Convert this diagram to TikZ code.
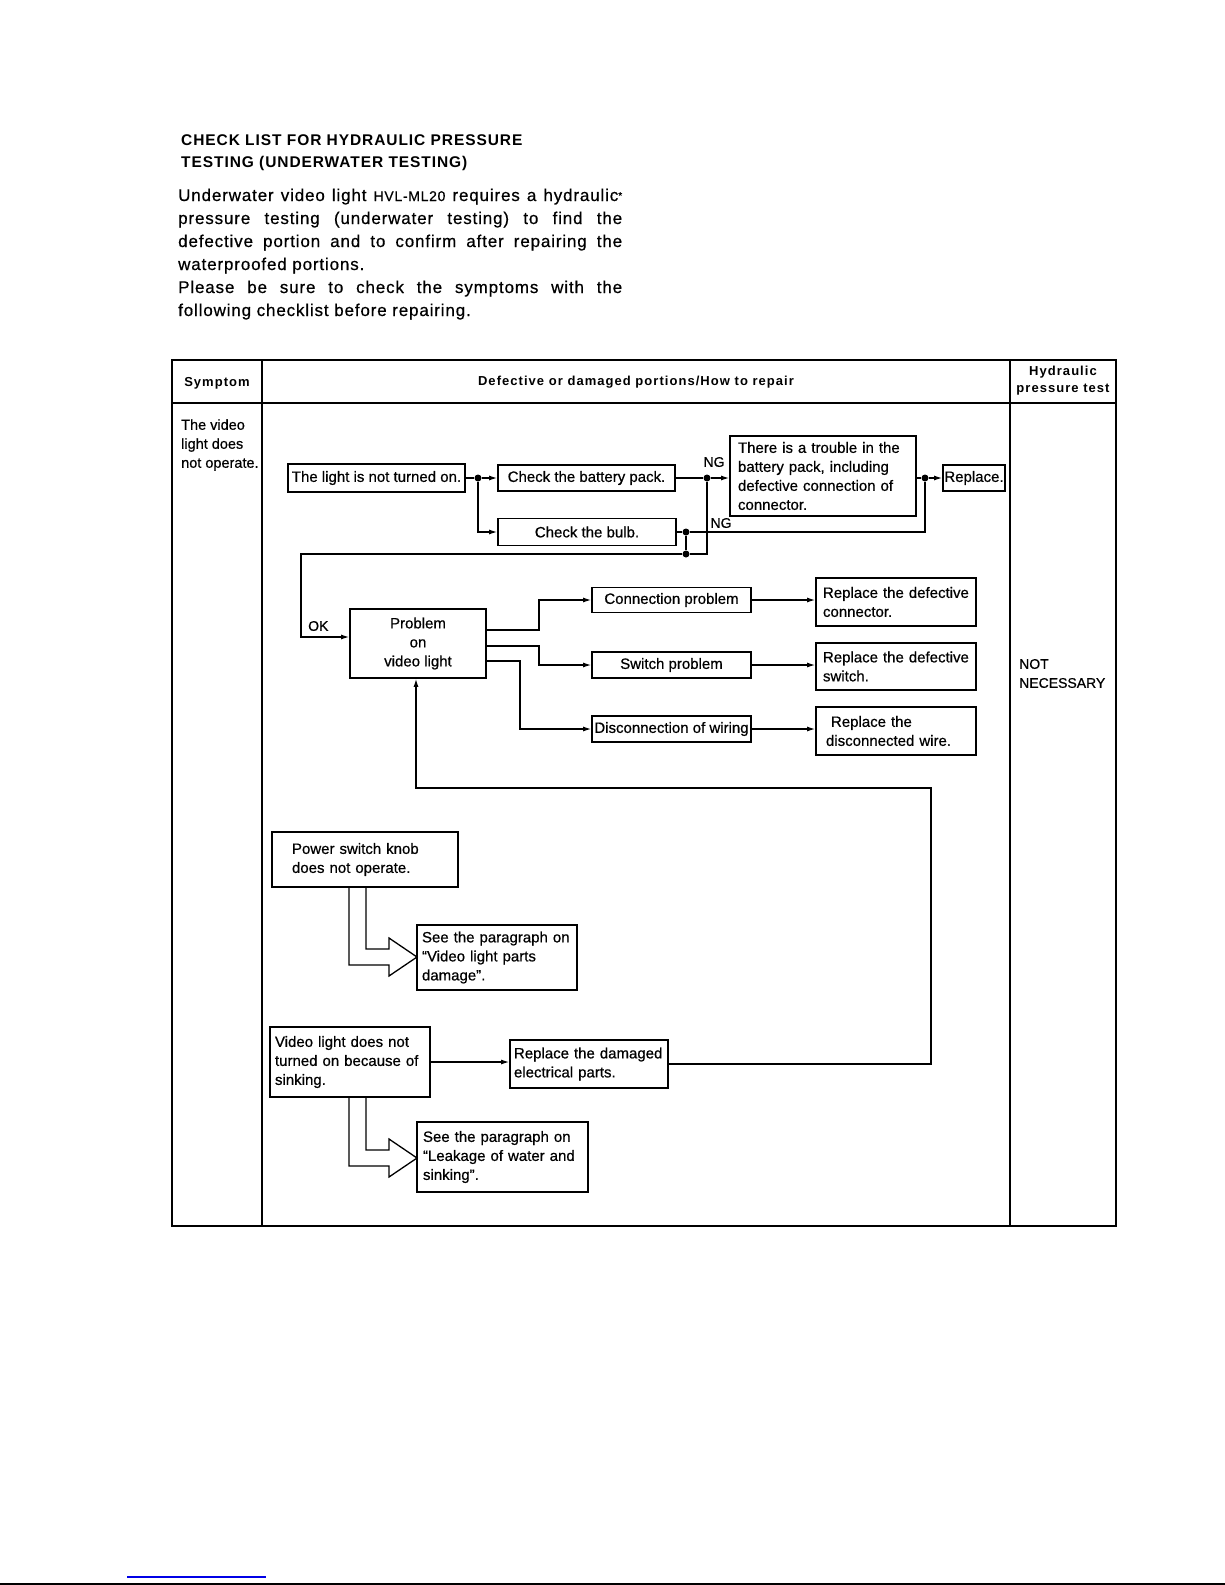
\documentclass[tikz,border=0pt]{standalone}
\usepackage{fontspec}
\setmainfont{Liberation Sans}
\newfontfamily\boxfont[FakeBold=0.6]{Liberation Sans}
\newfontfamily\parafont[LetterSpace=5,FakeBold=0.6]{Liberation Sans}
\newfontfamily\trackfont[LetterSpace=6]{Liberation Sans}
\newfontfamily\headfont[LetterSpace=8]{Liberation Sans}
\usetikzlibrary{arrows.meta}
\begin{document}
\begin{tikzpicture}[x=1pt,y=-1pt,
  box/.style={draw, line width=1.8pt, inner sep=0pt, font=\boxfont\fontsize{15}{19}\selectfont},
  conn/.style={line width=1.2pt},
  arr/.style={conn, -{Latex[length=8pt,width=5pt]}},
  jdot/.style={circle, fill, inner sep=0pt, minimum size=7pt},
  lbl/.style={inner sep=0pt, font=\boxfont\fontsize{14}{19}\selectfont},
  hollow/.style={line width=1.3pt, line join=miter},
  tline/.style={line width=1.8pt},
  para/.style={anchor=base west, inner sep=0pt, font=\parafont\fontsize{17}{23}\selectfont},
  ttl/.style={anchor=base west, inner sep=0pt, font={\trackfont\fontsize{15.5}{22}\selectfont\bfseries}},
  hdr/.style={inner sep=0pt, align=center, font={\headfont\fontsize{13}{17}\selectfont\bfseries}},
]
\useasboundingbox (0,0) rectangle (1225,1585);

% ---------- title and introduction ----------
\node[ttl] (t1) at (181,145) {CHECK LIST FOR HYDRAULIC PRESSURE};
\node[ttl] (t2) at (181,167) {TESTING (UNDERWATER TESTING)};

\node[para] (p1) at (178,201) {\makebox[444pt][s]{Underwater video light {\fontsize{14}{23}\selectfont HVL-ML20} requires a hydraulic{\fontsize{10}{10}\selectfont\raisebox{2pt}{*}}}};
\node[para] (p2) at (178,224) {\makebox[444pt][s]{pressure testing (underwater testing) to find the}};
\node[para] (p3) at (178,247) {\makebox[444pt][s]{defective portion and to confirm after repairing the}};
\node[para] (p4) at (178,270) {waterproofed portions.};
\node[para] (p5) at (178,293) {\makebox[444pt][s]{Please be sure to check the symptoms with the}};
\node[para] (p6) at (178,316) {following checklist before repairing.};

% ---------- table frame ----------
\draw[tline] (172,360) rectangle (1116,1226);
\draw[line width=2.6pt] (172,403) -- (1116,403);
\draw[line width=2.6pt] (172,1226) -- (1116,1226);
\draw[tline] (262,360) -- (262,1226);
\draw[tline] (1010,360) -- (1010,1226);

\node[hdr] (hsym) at (217,383) {Symptom};
\node[hdr] (hdef) at (636,382) {Defective or damaged portions/How to repair};
\node[hdr] (hhyd) at (1063,381) {Hydraulic\\pressure test};

\node[anchor=west, align=left, inner sep=0pt, font=\boxfont\fontsize{14.5}{19}\selectfont] (symtxt) at (181,445) {The video\\light does\\not operate.};
\node[anchor=west, align=left, inner sep=0pt, font=\boxfont\fontsize{14}{19}\selectfont] (nn) at (1019,673.5) {NOT\\NECESSARY};

% ---------- first flow ----------
\node[box, minimum width=177pt, minimum height=28pt] (light) at (376.5,478) {The light is not turned on.};
\node[box, minimum width=177pt, minimum height=26pt] (battery) at (586.5,478) {Check the battery pack.};
\node[box, minimum width=178pt, minimum height=27pt] (bulb) at (587,532) {Check the bulb.};
\node[box, minimum width=186pt, minimum height=80pt, text width=170pt, inner xsep=8pt, align=left] (trouble) at (823,476)
  {\mbox{There is a trouble in the}\\\mbox{battery pack, including}\\\mbox{defective connection of}\\connector.};
\node[box, minimum width=62pt, minimum height=26pt] (replace) at (974,478) {Replace.};

\node[jdot] (d1) at (478,478) {};
\node[jdot] (d2) at (707,478) {};
\node[jdot] (d3) at (925,478) {};
\node[jdot] (d4) at (686,532) {};
\node[jdot] (d5) at (686,554) {};

\draw[conn] (light.east) -- (d1);
\draw[arr] (d1) -- (battery.west);
\draw[arr] (d1) |- (bulb.west);
\draw[conn] (battery.east) -- (d2);
\draw[arr] (d2) -- (d2 -| trouble.west);
\draw[conn] (d3 -| trouble.east) -- (d3);
\draw[arr] (d3) -- (replace.west);
\draw[conn] (bulb.east) -- (d4);
\draw[conn] (d4) -| (d3);
\draw[conn] (d2) |- (d5);
\draw[conn] (d4) -- (d5);

\node[lbl] (ng1) at (714,462) {NG};
\node[lbl] (ng2) at (721,523) {NG};

% ---------- problem on video light ----------
\node[box, minimum width=136pt, minimum height=69pt, align=center] (problem) at (418,643.5) {Problem\\on\\video light};
\coordinate (ok1) at (301,554);
\coordinate (ok2) at (301,637);
\draw[arr] (d5) -- (ok1) -- (ok2) -- (ok2 -| problem.west);
\node[lbl, anchor=west] (ok) at (308,626) {OK};

\node[box, minimum width=159pt, minimum height=25pt] (cp) at (671.5,600) {Connection problem};
\node[box, minimum width=159pt, minimum height=26pt] (sp) at (671.5,665) {Switch problem};
\node[box, minimum width=159pt, minimum height=26pt] (dw) at (671.5,729) {Disconnection of wiring};

\coordinate (b1) at (539,630);
\coordinate (b2) at (539,646);
\coordinate (b3) at (520,661);
\draw[arr] (b1 -| problem.east) -- (b1) |- (cp.west);
\draw[arr] (b2 -| problem.east) -- (b2) |- (sp.west);
\draw[arr] (b3 -| problem.east) -- (b3) |- (dw.west);

\node[box, minimum width=160pt, minimum height=48pt, text width=146pt, inner xsep=7pt, align=left] (rc) at (896,602) {\mbox{Replace the defective}\\connector.};
\node[box, minimum width=160pt, minimum height=47pt, text width=146pt, inner xsep=7pt, align=left] (rs) at (896,666.5) {\mbox{Replace the defective}\\switch.};
\node[box, minimum width=160pt, minimum height=48pt, text width=140pt, inner xsep=10pt, align=left] (rw) at (896,731) {\hspace*{5pt}Replace the\\\mbox{disconnected wire.}};

\draw[arr] (cp.east) -- (cp.east -| rc.west);
\draw[arr] (sp.east) -- (sp.east -| rs.west);
\draw[arr] (dw.east) -- (dw.east -| rw.west);

% ---------- power switch knob ----------
\node[box, minimum width=186pt, minimum height=55pt, text width=146pt, inner xsep=20pt, align=left] (pw) at (365,859.5) {Power switch knob\\does not operate.};
\node[box, minimum width=160pt, minimum height=65pt, text width=150pt, inner xsep=5pt, align=left] (see1) at (497,957.5) {\mbox{See the paragraph on}\\“Video light parts\\damage”.};
\draw[hollow] (349,887) -- (349,965) -- (389,965) -- (389,976) -- (417,957) -- (389,938) -- (389,949) -- (366,949) -- (366,887);

% ---------- sinking ----------
\node[box, minimum width=160pt, minimum height=70pt, text width=150pt, inner xsep=5pt, align=left] (sink) at (350,1062) {\mbox{Video light does not}\\\mbox{turned on because of}\\sinking.};
\node[box, minimum width=158pt, minimum height=48pt, text width=150pt, inner xsep=4pt, align=left] (rd) at (589,1064) {\mbox{Replace the damaged}\\electrical parts.};
\draw[arr] (sink.east) -- (sink.east -| rd.west);
\coordinate (fb1) at (931,1064);
\coordinate (fb2) at (931,788);
\coordinate (fb3) at (416,788);
\draw[arr] (rd.east) -- (fb1) -- (fb2) -- (fb3) -- (fb3 |- problem.south);

\node[box, minimum width=171pt, minimum height=70pt, text width=159pt, inner xsep=6pt, align=left] (see2) at (502.5,1157) {\mbox{See the paragraph on}\\\mbox{“Leakage of water and}\\sinking”.};
\draw[hollow] (349,1097) -- (349,1166) -- (389,1166) -- (389,1177) -- (417,1158) -- (389,1139) -- (389,1150) -- (366,1150) -- (366,1097);

% ---------- page marks ----------
\draw[line width=1.2pt, color={rgb,255:red,0;green,0;blue,230}] (127,1577) -- (266,1577);
\draw[line width=2pt] (0,1584) -- (1225,1584);
\end{tikzpicture}
\end{document}
